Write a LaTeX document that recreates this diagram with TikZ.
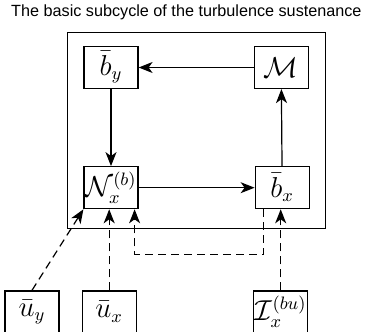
\documentclass[tikz,border=0pt]{standalone}
\usepackage{fontspec}
\usetikzlibrary{positioning, arrows.meta, calc}
\newfontfamily\titlefont{Liberation Sans}
\tikzset{
  varbox/.style={draw, minimum width=27pt, minimum height=21pt, inner sep=0.5pt,
    line width=0.6pt, font=\fontsize{13.5}{16}\selectfont, align=center},
  stdarrow/.style={-{Stealth[length=7pt, width=5.5pt, inset=2pt]}, line width=0.6pt},
  dasharrow/.style={stdarrow, dash pattern=on 4pt off 2.5pt},
  framebox/.style={draw, line width=0.6pt},
  titletext/.style={font=\titlefont\fontsize{8.1}{10}\selectfont},
}

\begin{document}
\begin{tikzpicture}

  \path[use as bounding box] (-55.5pt,33.75pt) rectangle (128pt,-131.75pt);

  % === Row 1: upper boxes of the cycle ===
  \node[varbox] (by) at (0,0) {$\bar{b}_y$};
  \node[varbox, right=57.5pt of by] (M) {$\mathcal{M}$};

  % === Row 2: lower boxes of the cycle ===
  \node[varbox, below=38.5pt of by] (Nx) {$\mathcal{N}_x^{(b)}$};
  \node[varbox, right=58pt of Nx] (bx) {$\bar{b}_x$};

  % Arrows: the cycle
  \draw[stdarrow] (M) -- (by);
  \draw[stdarrow] (by) -- (Nx);
  \draw[stdarrow] (Nx) -- (bx);
  \draw[stdarrow] (bx) -- (M);

  % === Frame and title ===
  \coordinate (frameNW) at ($(by.north west)+(-8pt,6.5pt)$);
  \coordinate (frameSE) at ($(bx.south east)+(8pt,-9.5pt)$);
  \draw[framebox] (frameNW) rectangle (frameSE);
  \node[titletext] (title) at ($(frameNW)+(59.5pt,10.5pt)$) {The basic subcycle of the turbulence sustenance};

  % === Row 3: outside inputs ===
  \node[varbox, below=40.5pt of Nx, xshift=-39.5pt] (uy) {$\bar{u}_y$};
  \node[varbox, right=11pt of uy] (ux) {$\bar{u}_x$};
  \node[varbox, below=40.5pt of bx, xshift=-0.75pt] (Ibu) {$\mathcal{I}_x^{(bu)}$};

  % Arrows: inputs -> cycle
  \draw[dasharrow] (uy.north) -- (Nx.south west);
  \draw[dasharrow] (ux.north) -- (ux.north |- Nx.south);
  \draw[dasharrow] (Ibu.north) -- (Ibu.north |- bx.south);

  % Feedback: bx -> Nx
  \coordinate (fbStart) at ($(bx.south west)+(4.5pt,0)$);
  \coordinate (fbEnd) at ($(Nx.south east)+(-2pt,0)$);
  \draw[dasharrow] (fbStart) -- ++(0,-22.5pt) -| (fbEnd);

\end{tikzpicture}
\end{document}
